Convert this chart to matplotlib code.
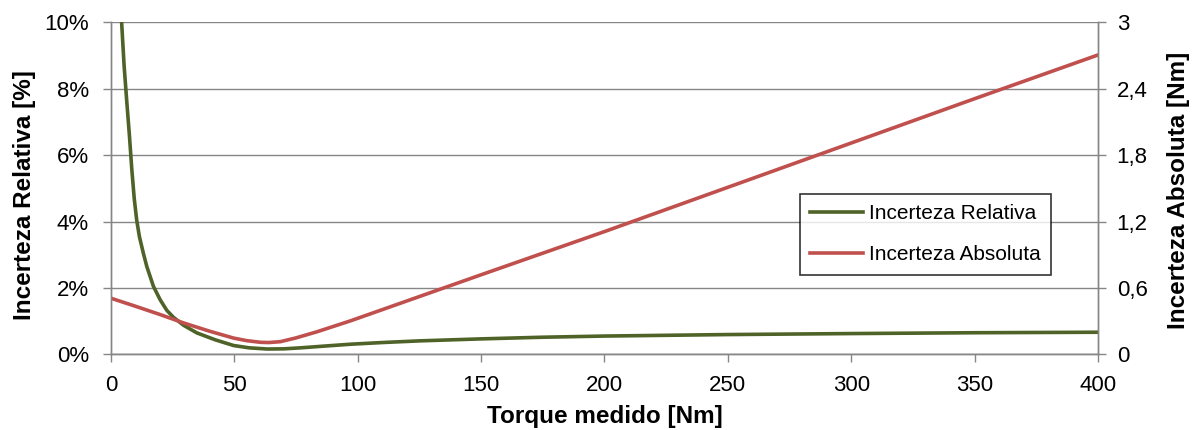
import matplotlib
matplotlib.use("Agg")
import matplotlib.pyplot as plt
from matplotlib.ticker import FuncFormatter

plt.rcParams['font.family'] = ['Liberation Sans', 'DejaVu Sans']

# Incerteza relativa [%]
torque_rel = [4.3, 5.3, 6.4, 7.45, 8.4, 9.4, 10.4, 11.5, 13.1, 14.5, 17.2, 19.9, 22.6,
              25.3, 29.4, 34.8, 42.3, 49.7, 56, 63.3, 70, 76.8, 85, 97.2, 110, 125,
              150, 175, 200, 250, 300, 350, 400]
inc_relativa = [10.0, 8.7, 7.6, 6.6, 5.6, 4.7, 4.05, 3.55, 3.05, 2.65, 2.05, 1.65, 1.33,
                1.12, 0.88, 0.65, 0.44, 0.27, 0.2, 0.165, 0.17, 0.2, 0.245, 0.31, 0.36, 0.41,
                0.47, 0.52, 0.555, 0.60, 0.63, 0.655, 0.67]

# Incerteza absoluta [Nm]
torque_abs = [0, 10, 20, 29.4, 40, 49.7, 55, 60.6, 64, 68.7, 75, 83.6, 97.2,
              150, 200, 250, 300, 350, 400]
inc_absoluta = [0.508, 0.435, 0.36, 0.285, 0.21, 0.148, 0.125, 0.110, 0.108, 0.116,
                0.15, 0.206, 0.305, 0.72, 1.11, 1.51, 1.91, 2.31, 2.705]

verde = '#4F6228'
vermelho = '#C0504D'
cinza = '#868686'

fig = plt.figure(figsize=(11.95, 4.3), dpi=100)
ax = fig.add_axes([0.0929, 0.1756, 0.8259, 0.7725])
ax2 = ax.twinx()

l1, = ax.plot(torque_rel, inc_relativa, color=verde, lw=2.6, label='Incerteza Relativa')
l2, = ax2.plot(torque_abs, inc_absoluta, color=vermelho, lw=2.6, label='Incerteza Absoluta')

ax.set_xlim(0, 400)
ax.set_ylim(0, 10)
ax2.set_ylim(0, 3)
ax.set_xticks(range(0, 401, 50))
ax.set_yticks(range(0, 11, 2))
ax2.set_yticks([0, 0.6, 1.2, 1.8, 2.4, 3])
ax.yaxis.set_major_formatter(FuncFormatter(lambda v, p: f'{int(v)}%'))
ax2.yaxis.set_major_formatter(FuncFormatter(lambda v, p: ('%g' % v).replace('.', ',')))

ax.grid(axis='y', color=cinza, lw=1)
ax.set_axisbelow(True)

for a in (ax, ax2):
    a.spines['top'].set_visible(False)
    for s in ('left', 'right', 'bottom'):
        a.spines[s].set_color(cinza)
        a.spines[s].set_linewidth(1)
    a.tick_params(colors=cinza, labelcolor='black', labelsize=16, length=6, width=1)
ax.tick_params(axis='y', pad=10)
ax2.tick_params(axis='y', pad=7.5)
ax.tick_params(axis='x', pad=8.5)

ax.set_xlabel('Torque medido [Nm]', fontsize=17.5, fontweight='bold', labelpad=7)
ax.set_ylabel('Incerteza Relativa [%]', fontsize=17.5, fontweight='bold', labelpad=6)
ax2.set_ylabel('Incerteza Absoluta [Nm]', fontsize=17.5, fontweight='bold', labelpad=14)
ax.yaxis.label.set_y(0.48)
ax2.yaxis.label.set_y(0.495)

leg = ax2.legend(handles=[l1, l2], loc='upper left',
                 bbox_to_anchor=(800 / 1195, 1 - 194 / 430), bbox_transform=fig.transFigure,
                 fontsize=15, frameon=True, fancybox=False, handlelength=2.5,
                 borderpad=0.5, labelspacing=1.05, handletextpad=0.3, borderaxespad=0)
leg.get_frame().set_edgecolor('black')
leg.get_frame().set_linewidth(1.2)

fig.savefig('out.png', dpi=100)
